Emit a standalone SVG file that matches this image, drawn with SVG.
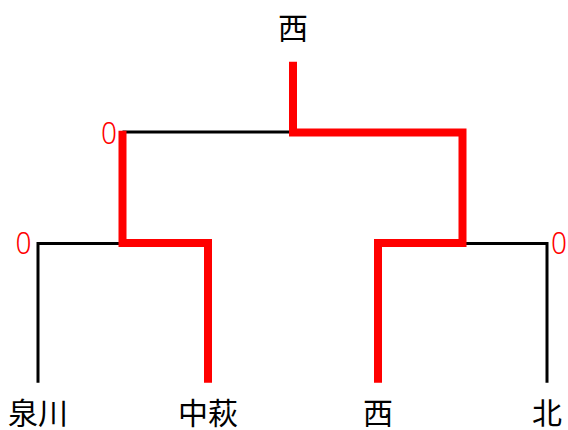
<svg xmlns="http://www.w3.org/2000/svg" width="568" height="430" viewBox="0 0 568 430">
  <style>
    .lose { fill: none; stroke: #000; stroke-width: 3; stroke-linejoin: miter; }
    .win { fill: none; stroke: #ff0000; stroke-width: 8; stroke-linejoin: miter; stroke-linecap: butt; }
    .name { font-family: "Noto Sans CJK JP", "Noto Sans", sans-serif; font-size: 30px; fill: #000; text-anchor: middle; }
    .score { font-family: "Noto Sans", "DejaVu Sans", sans-serif; font-size: 32px; font-weight: 300; fill: #ff0000; }
  </style>
  <rect width="568" height="430" fill="#fff"/>
  <g id="connectors">
    <polyline class="lose" points="38,382.7 38,243.5 122.5,243.5"/>
    <polyline class="lose" points="122.5,132 293,132"/>
    <polyline class="lose" points="462.5,243.5 547,243.5 547,382.7"/>
    <polyline class="win" points="122.5,130.7 122.5,243 208,243 208,382.7"/>
    <polyline class="win" points="293,61.7 293,132.5 462.5,132.5 462.5,243 378,243 378,382.7"/>
  </g>
  <g id="winner"><text class="name" x="293" y="39">西</text></g>
  <g id="score-top"><text class="score" x="101" y="144" textLength="16" lengthAdjust="spacingAndGlyphs">0</text></g>
  <g id="score-left"><text class="score" x="15.5" y="254" textLength="16" lengthAdjust="spacingAndGlyphs">0</text></g>
  <g id="score-right"><text class="score" x="551" y="254" textLength="16" lengthAdjust="spacingAndGlyphs">0</text></g>
  <g id="team-izumikawa"><text class="name" x="38" y="424">泉川</text></g>
  <g id="team-nakahagi"><text class="name" x="208" y="424">中萩</text></g>
  <g id="team-nishi"><text class="name" x="378" y="424">西</text></g>
  <g id="team-kita"><text class="name" x="547" y="424">北</text></g>
</svg>
